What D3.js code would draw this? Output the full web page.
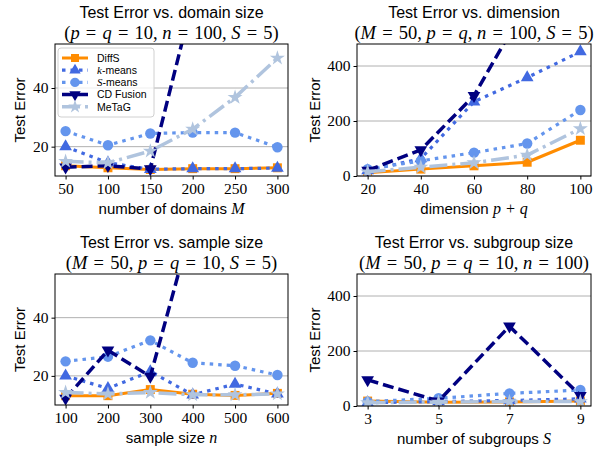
<!DOCTYPE html>
<html><head><meta charset="utf-8">
<script src="https://cdn.jsdelivr.net/npm/d3@7"></script>
<style>body{margin:0;background:#fff} svg{display:block}</style>
</head><body>
<svg id="fig" width="608" height="449"></svg>
<script>
const methods = ["DiffS", "k-means", "S-means", "CD Fusion", "MeTaG"];
const colors = ["#ff8c00", "#4169e1", "#6495ed", "#000080", "#b0c4de"];

const domainSizes = [50, 100, 150, 200, 250, 300];
const domainDiffS = [13.5, 12.8, 12.2, 12.5, 12.5, 12.8];
const domainKMeans = [20, 14.5, 12.3, 12.5, 12.5, 12.7];
const domainSMeans = [25.3, 20.5, 24.5, 24.8, 24.8, 19.8];
const domainCDFusion = [13, 13.5, 12.4, 70, 120, 180];
const domainMeTaG = [15, 14.5, 18.5, 26, 36.8, 50.2];

const dims = [20, 40, 60, 80, 100];
const dimDiffS = [12, 25, 37, 50, 130];
const dimKMeans = [20, 63, 270, 358, 452];
const dimSMeans = [25, 55, 85, 118, 240];
const dimCDFusion = [20, 95, 292, 630, 1000];
const dimMeTaG = [15, 32, 48, 76, 172];

const sampleSizes = [100, 200, 300, 400, 500, 600];
const sampleDiffS = [13.2, 13.2, 15.3, 13.7, 13.3, 14];
const sampleKMeans = [20, 15.7, 21.5, 13.5, 17.2, 13.8];
const sampleSMeans = [25, 26.6, 32.2, 24.5, 23.5, 20.3];
const sampleCDFusion = [12.3, 28.8, 19.8, 73, 120, 150];
const sampleMeTaG = [14.3, 13.8, 14.3, 13.5, 13.5, 13.8];

const subgroups = [3, 5, 7, 9];
const subDiffS = [18, 14, 15, 18];
const subKMeans = [12, 16, 20, 26];
const subSMeans = [16, 28, 46, 58];
const subCDFusion = [95, 18, 290, 38];
const subMeTaG = [12, 14, 16, 16];

const SANS = "'Liberation Sans', Arial, sans-serif";
const SERIF = "'Liberation Serif', 'Times New Roman', serif";
const EQ = "\u2004=\u2004";

// line styles per method
const dashes = [null, "3.5,5", "3.5,5", "11,5", "18,5,3,5"];
const widths = [3, 3.2, 3.2, 3.5, 3.5];
const symbols = [
  {type: d3.symbolSquare, size: 80, rot: 0},
  {type: d3.symbolTriangle, size: 70, rot: 0},
  {type: d3.symbolCircle, size: 85, rot: 0},
  {type: d3.symbolTriangle, size: 70, rot: 180},
  {type: d3.symbolStar, size: 70, rot: 0}
];

const panels = [
  {box: [55, 288, 44, 176], x: domainSizes, series: [domainDiffS, domainKMeans, domainSMeans, domainCDFusion, domainMeTaG],
   xdom: [37.5, 312.5], ydom: [10, 55], yticks: [20, 40], ylab: 30,
   title: "Test Error vs. domain size",
   sub: [["(", 0], ["p", 1], [EQ, 0], ["q", 1], [EQ + "10, ", 0], ["n", 1], [EQ + "100, ", 0], ["S", 1], [EQ + "5)", 0]],
   xlabel: "number of domains ", xvar: "M", legend: true},
  {box: [357, 591, 44, 176], x: dims, series: [dimDiffS, dimKMeans, dimSMeans, dimCDFusion, dimMeTaG],
   xdom: [16, 104], ydom: [0, 480], yticks: [0, 200, 400], ylab: 37,
   title: "Test Error vs. dimension",
   sub: [["(", 0], ["M", 1], [EQ + "50, ", 0], ["p", 1], [EQ, 0], ["q", 1], [", ", 0], ["n", 1], [EQ + "100, ", 0], ["S", 1], [EQ + "5)", 0]],
   xlabel: "dimension ", xvar: "p + q"},
  {box: [55, 288, 274, 405], x: sampleSizes, series: [sampleDiffS, sampleKMeans, sampleSMeans, sampleCDFusion, sampleMeTaG],
   xdom: [75, 625], ydom: [10, 55], yticks: [20, 40], ylab: 30,
   title: "Test Error vs. sample size",
   sub: [["(", 0], ["M", 1], [EQ + "50, ", 0], ["p", 1], [EQ, 0], ["q", 1], [EQ + "10, ", 0], ["S", 1], [EQ + "5)", 0]],
   xlabel: "sample size ", xvar: "n"},
  {box: [357, 591, 274, 406], x: subgroups, series: [subDiffS, subKMeans, subSMeans, subCDFusion, subMeTaG],
   xdom: [2.7, 9.3], ydom: [0, 480], yticks: [0, 200, 400], ylab: 37,
   title: "Test Error vs. subgroup size",
   sub: [["(", 0], ["M", 1], [EQ + "50, ", 0], ["p", 1], [EQ, 0], ["q", 1], [EQ + "10, ", 0], ["n", 1], [EQ + "100)", 0]],
   xlabel: "number of subgroups ", xvar: "S"}
];

const svg = d3.select("#fig");

function addMath(sel, parts) {
  parts.forEach(([t, it]) => {
    sel.append("tspan").attr("font-style", it ? "italic" : "normal").text(t);
  });
}

panels.forEach((p, pi) => {
  const [x0, x1, y0, y1] = p.box;
  const xScale = d3.scaleLinear().domain(p.xdom).range([x0, x1]);
  const yScale = d3.scaleLinear().domain(p.ydom).range([y1, y0]);
  const g = svg.append("g");
  const cx = (x0 + x1) / 2;

  // clip region
  svg.append("clipPath").attr("id", `clip${pi}`)
    .append("rect").attr("x", x0).attr("y", y0).attr("width", x1 - x0).attr("height", y1 - y0);

  // grid
  g.selectAll(".grid").data(p.yticks).enter().append("line")
    .attr("x1", x0).attr("x2", x1)
    .attr("y1", d => yScale(d)).attr("y2", d => yScale(d))
    .attr("stroke", "#b0b0b0").attr("stroke-width", 1);

  // axes
  const xAxis = d3.axisBottom(xScale).tickValues(p.x).tickFormat(d3.format("d")).tickSize(3.5).tickPadding(3);
  const yAxis = d3.axisLeft(yScale).tickValues(p.yticks).tickFormat(d3.format("d")).tickSize(3.5).tickPadding(3);
  const gx = g.append("g").attr("transform", `translate(0,${y1})`).call(xAxis);
  const gy = g.append("g").attr("transform", `translate(${x0},0)`).call(yAxis);
  [gx, gy].forEach(a => {
    a.select(".domain").remove();
    a.selectAll("text").attr("font-family", SERIF).attr("font-size", 15.5).attr("fill", "#000");
    a.selectAll("line").attr("stroke", "#000");
  });

  // data
  const plot = g.append("g").attr("clip-path", `url(#clip${pi})`);
  p.series.forEach((vals, si) => {
    const pts = p.x.map((xv, i) => [xv, vals[i]]);
    const line = d3.line().x(d => xScale(d[0])).y(d => yScale(d[1]));
    plot.append("path").datum(pts)
      .attr("d", line)
      .attr("fill", "none")
      .attr("stroke", colors[si])
      .attr("stroke-width", widths[si])
      .attr("stroke-dasharray", dashes[si])
      .attr("stroke-linejoin", "round");
    const sym = symbols[si];
    plot.selectAll(null).data(pts).enter().append("path")
      .attr("d", d3.symbol().type(sym.type).size(sym.size))
      .attr("transform", d => `translate(${xScale(d[0])},${yScale(d[1])}) rotate(${sym.rot})`)
      .attr("fill", colors[si]);
  });

  // frame
  g.append("rect").attr("x", x0).attr("y", y0).attr("width", x1 - x0).attr("height", y1 - y0)
    .attr("fill", "none").attr("stroke", "#000").attr("stroke-width", 1);

  // titles
  g.append("text").attr("x", cx).attr("y", y0 - 26).attr("text-anchor", "middle")
    .attr("font-family", SANS).attr("font-size", 16).text(p.title);
  const sub = g.append("text").attr("x", cx).attr("y", y0 - 5).attr("text-anchor", "middle")
    .attr("font-family", SERIF).attr("font-size", 18.5);
  addMath(sub, p.sub);

  // x label
  const xl = g.append("text").attr("x", cx).attr("y", y1 + 38).attr("text-anchor", "middle")
    .attr("font-family", SANS).attr("font-size", 15).text(p.xlabel);
  xl.append("tspan").attr("font-family", SERIF).attr("font-style", "italic").attr("font-size", 16).text(p.xvar);

  // y label
  g.append("text")
    .attr("transform", `translate(${x0 - p.ylab},${(y0 + y1) / 2}) rotate(-90)`)
    .attr("text-anchor", "middle")
    .attr("font-family", SANS).attr("font-size", 15).text("Test Error");

  if (p.legend) {
    const lx = x0 + 3, ly = y0 + 4;
    const lg = g.append("g");
    lg.append("rect").attr("x", lx).attr("y", ly).attr("width", 96).attr("height", 69)
      .attr("rx", 3).attr("fill", "#fff").attr("fill-opacity", 0.8)
      .attr("stroke", "#d0d0d0").attr("stroke-width", 1);
    methods.forEach((m, si) => {
      const yy = ly + 10 + si * 12.2;
      lg.append("line").attr("x1", lx + 4).attr("x2", lx + 30).attr("y1", yy).attr("y2", yy)
        .attr("stroke", colors[si]).attr("stroke-width", widths[si])
        .attr("stroke-dasharray", dashes[si]);
      const sym = symbols[si];
      lg.append("path").attr("d", d3.symbol().type(sym.type).size(sym.size * 0.8))
        .attr("transform", `translate(${lx + 17},${yy}) rotate(${sym.rot})`)
        .attr("fill", colors[si]);
      const t = lg.append("text").attr("x", lx + 39).attr("y", yy + 3.8)
        .attr("font-family", SANS).attr("font-size", 10.5);
      if (m === "k-means" || m === "S-means") {
        t.append("tspan").attr("font-family", SERIF).attr("font-style", "italic").attr("font-size", 11).text(m[0]);
        t.append("tspan").text(m.slice(1));
      } else {
        t.text(m);
      }
    });
  }
});
</script>
</body></html>
